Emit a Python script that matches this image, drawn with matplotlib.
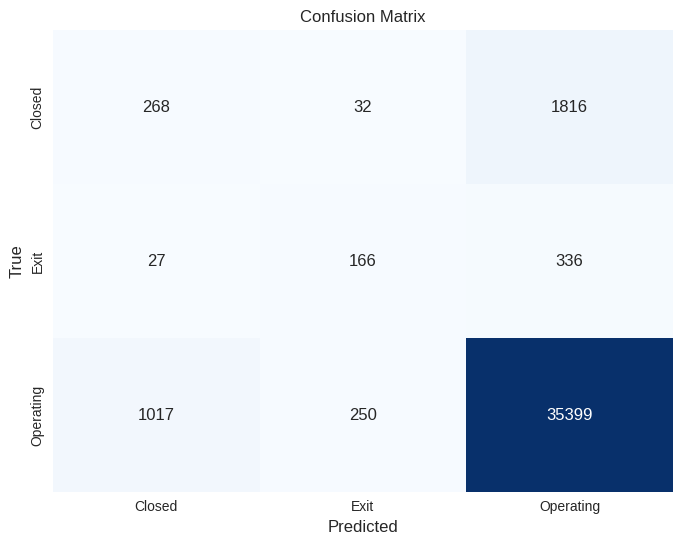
import matplotlib
matplotlib.use('Agg')
import matplotlib.pyplot as plt
import numpy as np
import seaborn as sns

# labels and counts
CLASSES = ['Closed', 'Exit', 'Operating']
ROW_CLOSED = [268, 32, 1816]
ROW_EXIT = [27, 166, 336]
ROW_OPERATING = [1017, 250, 35399]

sns.set_theme(style='white')
plt.rcParams['font.family'] = ['Liberation Sans', 'DejaVu Sans']

cm = np.array([ROW_CLOSED, ROW_EXIT, ROW_OPERATING])

fig = plt.figure(figsize=(6.82, 5.45), dpi=100)
ax = fig.add_axes([53 / 682, 1 - 492 / 545, (673 - 53) / 682, (492 - 30) / 545])

sns.heatmap(cm, annot=True, fmt='d', cmap='Blues', cbar=False,
            xticklabels=CLASSES, yticklabels=CLASSES, ax=ax,
            annot_kws={'fontsize': 12})

ax.set_title('Confusion Matrix', fontsize=12)
ax.set_xlabel('Predicted', fontsize=12)
ax.set_ylabel('True', fontsize=12)
ax.tick_params(axis='both', labelsize=10, length=0, pad=6)
plt.setp(ax.get_yticklabels(), rotation=90, va='center')

fig.savefig('out.png', dpi=100)
